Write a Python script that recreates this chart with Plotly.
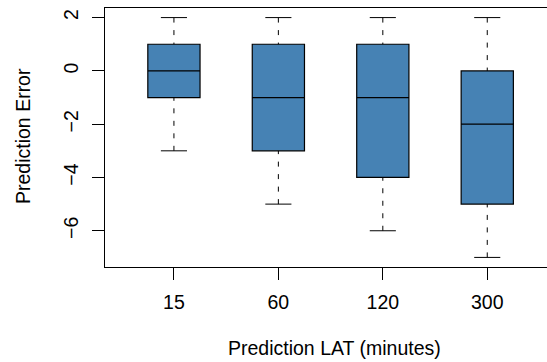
import plotly.graph_objects as go

# Prediction error distribution for each prediction lead time
categories = ["15", "60", "120", "300"]
lower_whisker = [-3, -5, -6, -7]
q1 = [-1, -3, -4, -5]
median = [0, -1, -1, -2]
q3 = [1, 1, 1, 0]
upper_whisker = [2, 2, 2, 2]
y_ticks = [2, 0, -2, -4, -6]

positions = list(range(1, len(categories) + 1))

BOX_WIDTH = 0.5
CAP_HALF = BOX_WIDTH / 4
FILL = "#4682B4"
FONT = "Liberation Sans, Arial, Helvetica, sans-serif"
FONT_SIZE = 19.5

W, H = 547, 362
ML, MR, MT, MB = 105, 0, 8, 95

fig = go.Figure()

# dashed whiskers from the fences to the hinges
wx, wy = [], []
for p, lo, a, b, hi in zip(positions, lower_whisker, q1, q3, upper_whisker):
    wx += [p, p, None, p, p, None]
    wy += [lo, a, None, hi, b, None]
fig.add_trace(go.Scatter(
    x=wx, y=wy, mode="lines",
    line=dict(color="black", width=1, dash="5px,7.5px"),
    hoverinfo="skip", showlegend=False,
))

# whisker caps
cx, cy = [], []
for p, lo, hi in zip(positions, lower_whisker, upper_whisker):
    cx += [p - CAP_HALF, p + CAP_HALF, None, p - CAP_HALF, p + CAP_HALF, None]
    cy += [lo, lo, None, hi, hi, None]
fig.add_trace(go.Scatter(
    x=cx, y=cy, mode="lines",
    line=dict(color="black", width=1),
    hoverinfo="skip", showlegend=False,
))

# boxes with median line
fig.add_trace(go.Box(
    x=positions, q1=q1, median=median, q3=q3,
    lowerfence=q1, upperfence=q3,
    width=BOX_WIDTH, whiskerwidth=0,
    fillcolor=FILL, line=dict(color="black", width=1.2),
    boxpoints=False, hoverinfo="skip", showlegend=False,
))

plot_w = W - ML - MR
plot_h = H - MT - MB

fig.update_layout(
    width=W, height=H,
    margin=dict(l=ML, r=MR, t=MT, b=MB, pad=0),
    paper_bgcolor="white", plot_bgcolor="white",
    font=dict(family=FONT, size=FONT_SIZE, color="black"),
    showlegend=False,
    xaxis=dict(
        range=[0.34, 4.572],
        tickmode="array", tickvals=positions, ticktext=categories,
        ticks="outside", ticklen=12, tickwidth=1, tickcolor="black",
        showline=True, linecolor="black", linewidth=1, mirror=True,
        showgrid=False, zeroline=False,
        ticklabelstandoff=6,
        tickfont=dict(family=FONT, size=FONT_SIZE, color="black"),
    ),
    yaxis=dict(
        range=[-7.36, 2.36],
        tickmode="array", tickvals=y_ticks,
        ticks="outside", ticklen=12, tickwidth=1, tickcolor="black",
        showline=True, linecolor="black", linewidth=1, mirror=False,
        showgrid=False, zeroline=False,
        tickangle=-90,
        ticklabelstandoff=6,
        tickfont=dict(family=FONT, size=FONT_SIZE, color="black"),
    ),
    annotations=[
        dict(
            text="Prediction LAT (minutes)",
            xref="paper", yref="paper",
            x=(334 - ML) / plot_w, y=-(348 - (MT + plot_h)) / plot_h,
            xanchor="center", yanchor="middle", showarrow=False,
            font=dict(family=FONT, size=FONT_SIZE, color="black"),
        ),
        dict(
            text="Prediction Error",
            xref="paper", yref="paper",
            x=(22.5 - ML) / plot_w, y=((MT + plot_h) - 136.5) / plot_h,
            xanchor="center", yanchor="middle", textangle=-90, showarrow=False,
            font=dict(family=FONT, size=FONT_SIZE, color="black"),
        ),
    ],
)

fig.write_html("out.html")
